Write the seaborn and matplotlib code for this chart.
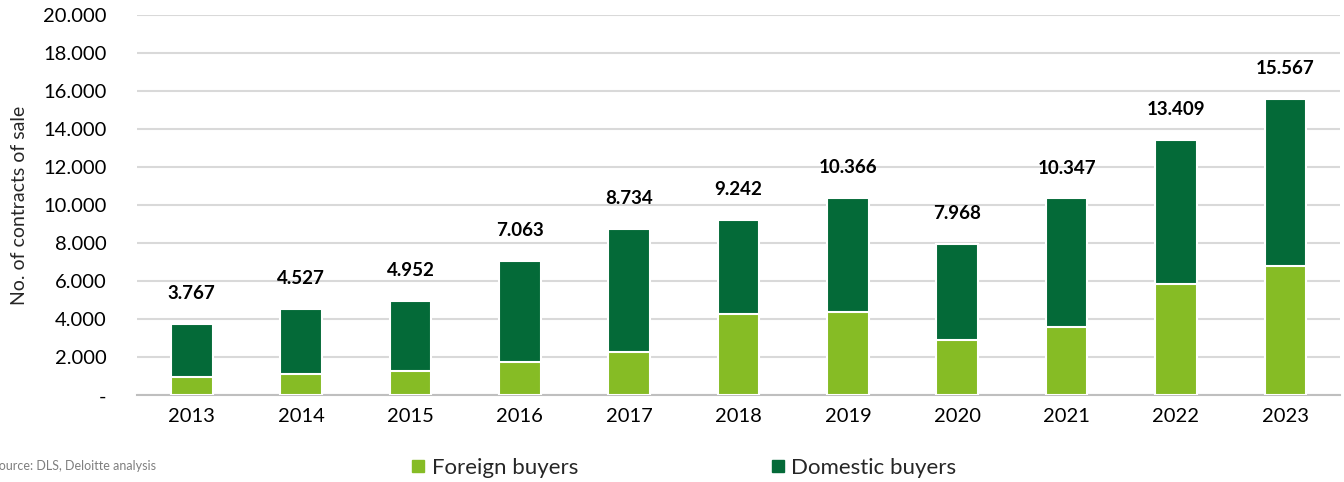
import matplotlib
matplotlib.use("Agg")
import matplotlib.pyplot as plt
import seaborn as sns
import pandas as pd
import numpy as np
from matplotlib.lines import Line2D
from matplotlib.ticker import FuncFormatter, FixedLocator

years = ["2013", "2014", "2015", "2016", "2017", "2018", "2019", "2020", "2021", "2022", "2023"]
totals = [3767, 4527, 4952, 7063, 8734, 9242, 10366, 7968, 10347, 13409, 15567]
foreign = [950, 1100, 1250, 1730, 2300, 4250, 4380, 2890, 3590, 5850, 6800]
domestic = [t - f for t, f in zip(totals, foreign)]

LIGHT = "#86BC25"
DARK = "#046A38"

sns.set_theme(style="white")
plt.rcParams["font.family"] = ["Lato", "DejaVu Sans"]

df = pd.DataFrame({"year": years, "total": totals, "foreign": foreign, "domestic": domestic})

fig = plt.figure(figsize=(13.44, 4.82), dpi=100)
ax = fig.add_axes([0.102, 0.180, 0.895, 0.789])

# stacked: domestic on top of foreign (draw total first, then foreign overlay)
sns.barplot(data=df, x="year", y="total", color=DARK, width=0.38, saturation=1,
            edgecolor="white", linewidth=1.5, ax=ax, zorder=3)
sns.barplot(data=df, x="year", y="foreign", color=LIGHT, width=0.38, saturation=1,
            edgecolor="white", linewidth=1.5, ax=ax, zorder=4)

for i, t in enumerate(totals):
    ax.text(i, t + 1600, f"{t:,}".replace(",", "."), ha="center", va="center",
            fontsize=13.5, fontweight="bold", color="black")

ax.set_ylim(0, 20000)
ax.set_xlim(-0.5, len(years) - 0.5)
ax.set_yticks(np.arange(0, 20001, 2000))
ax.yaxis.set_major_formatter(FuncFormatter(lambda v, p: "-" if v == 0 else f"{int(v):,}".replace(",", ".")))
ax.yaxis.grid(True, color="#D9D9D9", linewidth=1.5, zorder=0)
ax.set_axisbelow(True)

for s in ["top", "right", "left"]:
    ax.spines[s].set_visible(False)
ax.spines["bottom"].set_color("#BFBFBF")
ax.spines["bottom"].set_linewidth(1.5)

ax.tick_params(axis="y", length=0, labelsize=14.5, pad=22, colors="black")
ax.tick_params(axis="x", which="major", length=0, labelsize=14.5, pad=9, colors="black")
ax.xaxis.set_minor_locator(FixedLocator(np.arange(-0.5, len(years), 1.0)))
ax.tick_params(axis="x", which="minor", length=9, width=1, color="#808080", direction="out")

ax.set_xlabel("")
ax.set_ylabel("No. of contracts of sale", fontsize=14, labelpad=12)
ax.yaxis.set_label_coords(-0.091, 0.5)

handles = [
    Line2D([0], [0], marker="s", linestyle="", markersize=9, markerfacecolor=LIGHT, markeredgecolor=LIGHT),
    Line2D([0], [0], marker="s", linestyle="", markersize=9, markerfacecolor=DARK, markeredgecolor=DARK),
]
fig.legend(handles, ["Foreign buyers", "Domestic buyers"], loc="center",
           bbox_to_anchor=(0.509, 0.030), ncol=2, frameon=False, fontsize=16,
           handlelength=0.6, handletextpad=0.3, columnspacing=8.7)

fig.text(-0.006, 0.033, "Source: DLS, Deloitte analysis", fontsize=9, color="#7F7F7F",
         ha="left", va="center")

fig.savefig("out.png", dpi=100)
